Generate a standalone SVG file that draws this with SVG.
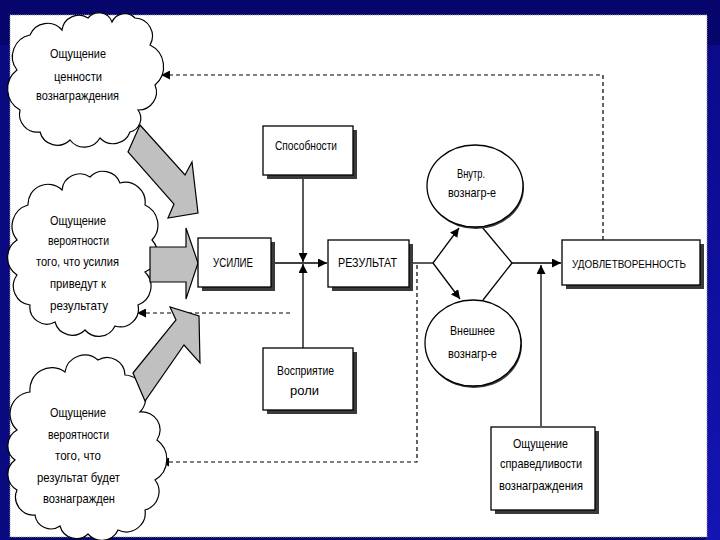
<svg xmlns="http://www.w3.org/2000/svg" width="720" height="540" viewBox="0 0 720 540">
<defs>
<marker id="ah" viewBox="0 0 10 10" refX="10" refY="5" markerWidth="9" markerHeight="9" markerUnits="userSpaceOnUse" orient="auto"><path d="M0,0 L10,5 L0,10 Z" fill="#000"/></marker>
<linearGradient id="side" x1="0" y1="0" x2="0" y2="1"><stop offset="0" stop-color="#0a0a8a"/><stop offset="1" stop-color="#1414b4"/></linearGradient>
<style>
.t{font-family:"Liberation Sans Narrow","Liberation Sans",Arial,sans-serif;font-size:13px;fill:#000;text-anchor:middle}
.cl{fill:#fff;stroke:#000;stroke-width:1.2}
.bx{fill:#fff;stroke:#000;stroke-width:1.3}
.sh{fill:#3a3a3a}
.ln{fill:none;stroke:#000;stroke-width:1.3}
.dl{fill:none;stroke:#000;stroke-width:1.2;stroke-dasharray:4 3}
.ba{fill:#c0c0c0;stroke:#000;stroke-width:1.2;stroke-linejoin:miter}
</style>
</defs>
<rect x="0" y="0" width="720" height="540" fill="#05056c"/>
<rect x="706" y="45" width="14" height="495" fill="url(#side)"/>
<rect x="0" y="45" width="10" height="495" fill="#0a0a80"/>
<rect x="10" y="15" width="697" height="522" fill="#fff" stroke="#9a9aa8" stroke-width="1" stroke-dasharray="1 1"/>

<g id="connectors">
<line class="ln" x1="271" y1="263" x2="327" y2="263" marker-end="url(#ah)"/>
<line class="ln" x1="303" y1="175" x2="303" y2="262" marker-end="url(#ah)"/>
<line class="ln" x1="303" y1="348" x2="303" y2="264" marker-end="url(#ah)"/>
<line class="ln" x1="409" y1="263" x2="433" y2="263"/>
<line class="ln" x1="433" y1="263" x2="459" y2="228" marker-end="url(#ah)"/>
<line class="ln" x1="433" y1="263" x2="460" y2="299" marker-end="url(#ah)"/>
<line class="ln" x1="482" y1="227" x2="512" y2="263" stroke-width="2"/>
<line class="ln" x1="483" y1="300" x2="512" y2="263" stroke-width="2"/>
<line class="ln" x1="512" y1="263" x2="561" y2="263" marker-end="url(#ah)"/>
<line class="ln" x1="541" y1="426" x2="541" y2="265" marker-end="url(#ah)"/>
<polyline class="dl" points="603,240 603,75 161,75" marker-end="url(#ah)"/>
<line class="dl" x1="290" y1="313" x2="137" y2="313" marker-end="url(#ah)"/>
<polyline class="dl" points="417,265 417,462 160,462" marker-end="url(#ah)"/>
</g>

<g id="cloud-value">
<path class="cl" d="M17,70 A22,22 0 0 1 30,35 A19,19 0 0 1 62,30 A17,17 0 0 1 88,18 A14,14 0 0 1 112,22 A14,14 0 0 1 135,18 A18,18 0 0 1 150,45 A24,24 0 0 1 155,85 A18,18 0 0 1 138,110 A14,14 0 0 1 130,132 A18,18 0 0 1 100,138 A18,18 0 0 1 70,140 A18,18 0 0 1 40,132 A18,18 0 0 1 20,110 A24,24 0 0 1 17,70 Z"/>
<text class="t" x="78" y="58" textLength="56" lengthAdjust="spacingAndGlyphs">Ощущение</text>
<text class="t" x="78" y="81" textLength="48" lengthAdjust="spacingAndGlyphs">ценности</text>
<text class="t" x="77.5" y="100" textLength="83" lengthAdjust="spacingAndGlyphs">вознаграждения</text>
</g>

<g id="cloud-effort">
<path class="cl" d="M17,240 A22,22 0 0 1 28,205 A20,20 0 0 1 62,190 A18,18 0 0 1 90,177 A18,18 0 0 1 120,183 A20,20 0 0 1 145,205 A22,22 0 0 1 152,240 A20,20 0 0 1 145,272 A20,20 0 0 1 138,305 A18,18 0 0 1 115,326 A18,18 0 0 1 85,330 A18,18 0 0 1 55,322 A17,17 0 0 1 30,305 A19,19 0 0 1 17,275 A21,21 0 0 1 17,240 Z"/>
<text class="t" x="78" y="225" textLength="56" lengthAdjust="spacingAndGlyphs">Ощущение</text>
<text class="t" x="78.5" y="245" textLength="61" lengthAdjust="spacingAndGlyphs">вероятности</text>
<text class="t" x="77.5" y="266" textLength="83" lengthAdjust="spacingAndGlyphs">того, что усилия</text>
<text class="t" x="78" y="288" textLength="56" lengthAdjust="spacingAndGlyphs">приведут к</text>
<text class="t" x="79" y="310" textLength="58" lengthAdjust="spacingAndGlyphs">результату</text>
</g>

<g id="cloud-reward">
<path class="cl" d="M17,430 A22,22 0 0 1 30,392 A22,22 0 0 1 65,372 A20,20 0 0 1 98,360 A18,18 0 0 1 125,375 A22,22 0 0 1 140,412 A18,18 0 0 1 157,440 A24,24 0 0 1 155,480 A19,19 0 0 1 145,510 A19,19 0 0 1 118,530 A18,18 0 0 1 88,534 A17,17 0 0 1 60,526 A16,16 0 0 1 35,515 A18,18 0 0 1 17,490 A18,18 0 0 1 15,460 A18,18 0 0 1 17,430 Z"/>
<text class="t" x="78" y="417" textLength="56" lengthAdjust="spacingAndGlyphs">Ощущение</text>
<text class="t" x="78.5" y="439" textLength="61" lengthAdjust="spacingAndGlyphs">вероятности</text>
<text class="t" x="78" y="460" textLength="46" lengthAdjust="spacingAndGlyphs">того, что</text>
<text class="t" x="78.5" y="482" textLength="83" lengthAdjust="spacingAndGlyphs">результат будет</text>
<text class="t" x="79" y="503" textLength="72" lengthAdjust="spacingAndGlyphs">вознагражден</text>
</g>

<g id="block-arrows">
<polygon class="ba" points="140,125 185,175 192,162 198,213 168,218 174,204 128,152"/>
<polygon class="ba" points="150,247 186,247 186,228 198,263 186,299 186,282 150,282"/>
<polygon class="ba" points="133,373 176,320 170,307 199,316 200,363 184,345 145,401"/>
</g>

<g id="box-ability">
<rect class="sh" x="267" y="130" width="90" height="49"/>
<rect class="bx" x="263" y="126" width="90" height="49"/>
<text class="t" x="306" y="150" textLength="62" lengthAdjust="spacingAndGlyphs">Способности</text>
</g>

<g id="box-effort">
<rect class="sh" x="202" y="242" width="73" height="49"/>
<rect class="bx" x="198" y="238" width="73" height="49"/>
<text class="t" x="233" y="267" textLength="40" lengthAdjust="spacingAndGlyphs">УСИЛИЕ</text>
</g>

<g id="box-result">
<rect class="sh" x="332" y="244" width="81" height="47"/>
<rect class="bx" x="328" y="240" width="81" height="47"/>
<text class="t" x="367.5" y="267" textLength="59" lengthAdjust="spacingAndGlyphs">РЕЗУЛЬТАТ</text>
</g>

<g id="box-role">
<rect class="sh" x="267" y="352" width="90" height="62"/>
<rect class="bx" x="263" y="348" width="90" height="62"/>
<text class="t" x="305.5" y="375" textLength="57" lengthAdjust="spacingAndGlyphs">Восприятие</text>
<text class="t" x="304.5" y="395" textLength="29" lengthAdjust="spacingAndGlyphs">роли</text>
</g>

<g id="ellipse-internal">
<ellipse cx="476" cy="188" rx="48" ry="41" fill="#3a3a3a"/>
<ellipse class="bx" cx="475" cy="186" rx="48" ry="41"/>
<text class="t" x="471" y="178" textLength="28" lengthAdjust="spacingAndGlyphs">Внутр.</text>
<text class="t" x="472" y="197" textLength="48" lengthAdjust="spacingAndGlyphs">вознагр-е</text>
</g>

<g id="ellipse-external">
<ellipse cx="474" cy="345" rx="48" ry="43" fill="#3a3a3a"/>
<ellipse class="bx" cx="473" cy="343" rx="48" ry="43"/>
<text class="t" x="472.5" y="335" textLength="45" lengthAdjust="spacingAndGlyphs">Внешнее</text>
<text class="t" x="472.5" y="358" textLength="49" lengthAdjust="spacingAndGlyphs">вознагр-е</text>
</g>

<g id="box-satisfaction">
<rect class="sh" x="566" y="244" width="138" height="45"/>
<rect class="bx" x="562" y="240" width="138" height="45"/>
<text class="t" x="629" y="267.5" style="font-size:11.5px" textLength="114" lengthAdjust="spacingAndGlyphs">УДОВЛЕТВОРЕННОСТЬ</text>
</g>

<g id="box-fairness">
<rect class="sh" x="495" y="431" width="104" height="83"/>
<rect class="bx" x="491" y="427" width="104" height="83"/>
<text class="t" x="540.5" y="448" textLength="55" lengthAdjust="spacingAndGlyphs">Ощущение</text>
<text class="t" x="541" y="468" textLength="82" lengthAdjust="spacingAndGlyphs">справедливости</text>
<text class="t" x="541" y="490" textLength="84" lengthAdjust="spacingAndGlyphs">вознаграждения</text>
</g>
</svg>
